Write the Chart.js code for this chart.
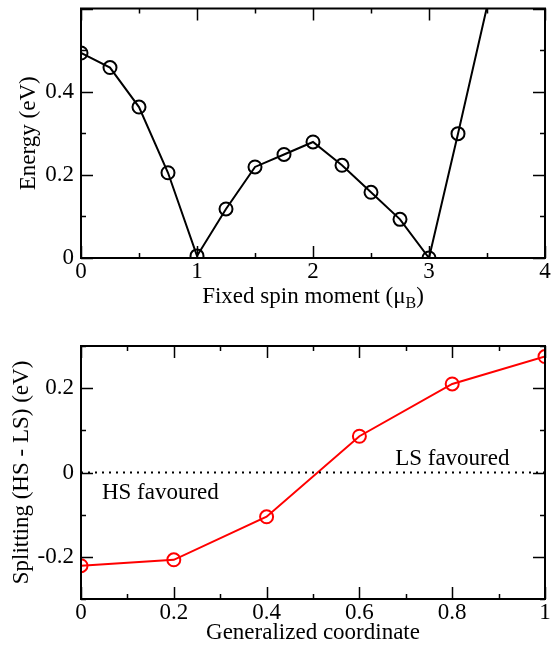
<!DOCTYPE html>
<html>
<head>
<meta charset="utf-8">
<script src="https://cdn.jsdelivr.net/npm/chart.js@4"></script>
<style>
  html, body { margin: 0; padding: 0; background: #fff; }
  #wrap { position: relative; width: 560px; height: 651px; }
  canvas { position: absolute; left: 0; }
  #c1 { top: 0; }
  #c2 { top: 315px; }
</style>
</head>
<body>
<div id="wrap">
  <canvas id="c1" width="560" height="315"></canvas>
  <canvas id="c2" width="560" height="336"></canvas>
</div>
<script>
// top panel: energy vs fixed spin moment
const spinMoment = [0, 0.25, 0.5, 0.75, 1, 1.25, 1.5, 1.75, 2, 2.25, 2.5, 2.75, 3, 3.25, 3.5];
const spinEnergy = [0.493, 0.458, 0.363, 0.205, 0.005, 0.118, 0.219, 0.249, 0.279, 0.223, 0.158, 0.093, 0.0, 0.299, 0.604];

// bottom panel: HS - LS splitting along the generalized coordinate
const genCoord  = [0, 0.2, 0.4, 0.6, 0.8, 1];
const splitting = [-0.221, -0.207, -0.105, 0.086, 0.210, 0.275];
const zeroLineX = [0, 1];
const zeroLineY = [0, 0];

const noteText = ['HS favoured', 'LS favoured'];
const noteX    = [0.045, 0.677];
const noteY    = [-0.048, 0.032];

const FONT = '"Liberation Serif", "DejaVu Serif", serif';
const FS = 23;

function isMajor(v, step) {
  const q = v / step;
  return Math.abs(q - Math.round(q)) < 1e-6;
}
function fmt(v) {
  return String(Math.round(v * 10) / 10);
}
const pts = (xs, ys) => xs.map((x, i) => ({ x, y: ys[i] }));

// box + inward ticks on all four sides (xmgrace style)
const framePlugin = {
  id: 'frame',
  afterDatasetsDraw(chart, args, opts) {
    const { ctx, chartArea: a } = chart;
    const xs = chart.scales.x, ys = chart.scales.y;
    ctx.save();
    ctx.strokeStyle = '#000';
    ctx.lineWidth = 1.5;
    ctx.beginPath();
    xs.ticks.forEach(t => {
      const len = isMajor(t.value, opts.xMajor) ? 12 : 5;
      const px = Math.round(xs.getPixelForValue(t.value)) + 0.5;
      ctx.moveTo(px, a.bottom); ctx.lineTo(px, a.bottom - len);
      ctx.moveTo(px, a.top);    ctx.lineTo(px, a.top + len);
    });
    ys.ticks.forEach(t => {
      const len = isMajor(t.value, opts.yMajor) ? 12 : 5;
      const py = Math.round(ys.getPixelForValue(t.value)) + 0.5;
      ctx.moveTo(a.left, py);  ctx.lineTo(a.left + len, py);
      ctx.moveTo(a.right, py); ctx.lineTo(a.right - len, py);
    });
    ctx.stroke();
    ctx.lineWidth = 2;
    ctx.strokeRect(a.left, a.top, a.right - a.left, a.bottom - a.top);
    ctx.restore();
  }
};

function baseScales(o) {
  return {
    x: {
      type: 'linear', min: o.xMin, max: o.xMax,
      grid: { display: false, drawTicks: false },
      border: { display: false },
      ticks: {
        stepSize: o.xStep, autoSkip: false, maxRotation: 0, padding: 0,
        color: '#000', font: { family: FONT, size: FS },
        callback: v => isMajor(v, o.xMajor) ? fmt(v) : ''
      },
      title: o.xTitle ? {
        display: true, text: o.xTitle, color: '#000',
        font: { family: FONT, size: FS }, padding: { top: 0, bottom: 4 }
      } : { display: false },
      afterFit: s => { s.height = o.xHeight; s.paddingLeft = 0; s.paddingRight = 0; }
    },
    y: {
      type: 'linear', min: o.yMin, max: o.yMax,
      grid: { display: false, drawTicks: false },
      border: { display: false },
      ticks: {
        stepSize: o.yStep, autoSkip: false, padding: 7,
        color: '#000', font: { family: FONT, size: FS },
        callback: v => (isMajor(v, o.yMajor) && v < o.yLabelMax) ? fmt(v) : ''
      },
      title: {
        display: true, text: o.yTitle, color: '#000',
        font: { family: FONT, size: FS }, padding: { top: o.yTitlePad, bottom: 0 }
      },
      afterFit: s => { s.width = 81; s.paddingTop = 0; s.paddingBottom = 0; }
    }
  };
}

// top chart: x title with a subscript B
const subTitlePlugin = {
  id: 'subTitle',
  afterDraw(chart) {
    const { ctx, chartArea: a } = chart;
    const main = 'Fixed spin moment (\u03bc', sub = 'B', tail = ')';
    ctx.save();
    ctx.fillStyle = '#000';
    ctx.textBaseline = 'alphabetic';
    ctx.textAlign = 'left';
    ctx.font = FS + 'px ' + FONT;
    const w1 = ctx.measureText(main).width, w3 = ctx.measureText(tail).width;
    ctx.font = Math.round(FS * 0.68) + 'px ' + FONT;
    const w2 = ctx.measureText(sub).width;
    let x = (a.left + a.right) / 2 - (w1 + w2 + w3) / 2;
    const base = 303;
    ctx.font = FS + 'px ' + FONT;
    ctx.fillText(main, x, base); x += w1;
    ctx.font = Math.round(FS * 0.68) + 'px ' + FONT;
    ctx.fillText(sub, x, base + 5); x += w2;
    ctx.font = FS + 'px ' + FONT;
    ctx.fillText(tail, x, base);
    ctx.restore();
  }
};

new Chart(document.getElementById('c1'), {
  type: 'scatter',
  data: {
    datasets: [{
      data: pts(spinMoment, spinEnergy),
      showLine: true,
      borderColor: '#000',
      borderWidth: 2,
      pointStyle: 'circle',
      pointRadius: ctx => (ctx.raw && ctx.raw.y > 0.6) ? 0 : 6.5,
      pointBorderWidth: 2,
      pointBorderColor: '#000',
      pointBackgroundColor: 'rgba(0,0,0,0)'
    }]
  },
  options: {
    responsive: false, animation: false, devicePixelRatio: 1,
    layout: { padding: { top: 5, right: 15, left: 0, bottom: 0 } },
    plugins: { legend: { display: false }, tooltip: { enabled: false },
               frame: { xMajor: 1, yMajor: 0.2 } },
    scales: baseScales({
      xMin: 0, xMax: 4, xStep: 0.5, xMajor: 1, xHeight: 57, xTitle: null,
      yMin: 0, yMax: 0.6, yStep: 0.1, yMajor: 0.2, yLabelMax: 0.55,
      yTitle: 'Energy (eV)', yTitlePad: 15
    })
  },
  plugins: [framePlugin, subTitlePlugin]
});

// bottom chart: region notes
const notePlugin = {
  id: 'notes',
  afterDatasetsDraw(chart) {
    const { ctx } = chart;
    const xs = chart.scales.x, ys = chart.scales.y;
    ctx.save();
    ctx.fillStyle = '#000';
    ctx.font = FS + 'px ' + FONT;
    ctx.textAlign = 'left';
    ctx.textBaseline = 'middle';
    noteText.forEach((t, i) => ctx.fillText(t, xs.getPixelForValue(noteX[i]), ys.getPixelForValue(noteY[i])));
    ctx.restore();
  }
};

new Chart(document.getElementById('c2'), {
  type: 'scatter',
  data: {
    datasets: [{
      data: pts(zeroLineX, zeroLineY),
      showLine: true,
      borderColor: '#000',
      borderWidth: 2,
      borderDash: [2, 5],
      borderDashOffset: -14,
      pointRadius: 0
    }, {
      data: pts(genCoord, splitting),
      showLine: true,
      borderColor: '#ff0000',
      borderWidth: 2,
      pointStyle: 'circle',
      pointRadius: 6.5,
      pointBorderWidth: 2,
      pointBorderColor: '#ff0000',
      pointBackgroundColor: 'rgba(0,0,0,0)'
    }]
  },
  options: {
    responsive: false, animation: false, devicePixelRatio: 1,
    layout: { padding: { top: 31, right: 15, left: 0, bottom: 0 } },
    plugins: { legend: { display: false }, tooltip: { enabled: false },
               frame: { xMajor: 0.2, yMajor: 0.2 } },
    scales: baseScales({
      xMin: 0, xMax: 1, xStep: 0.1, xMajor: 0.2, xHeight: 52, xTitle: 'Generalized coordinate',
      yMin: -0.3, yMax: 0.3, yStep: 0.1, yMajor: 0.2, yLabelMax: 0.35,
      yTitle: 'Splitting (HS - LS) (eV)', yTitlePad: 8
    })
  },
  plugins: [framePlugin, notePlugin]
});
</script>
</body>
</html>
